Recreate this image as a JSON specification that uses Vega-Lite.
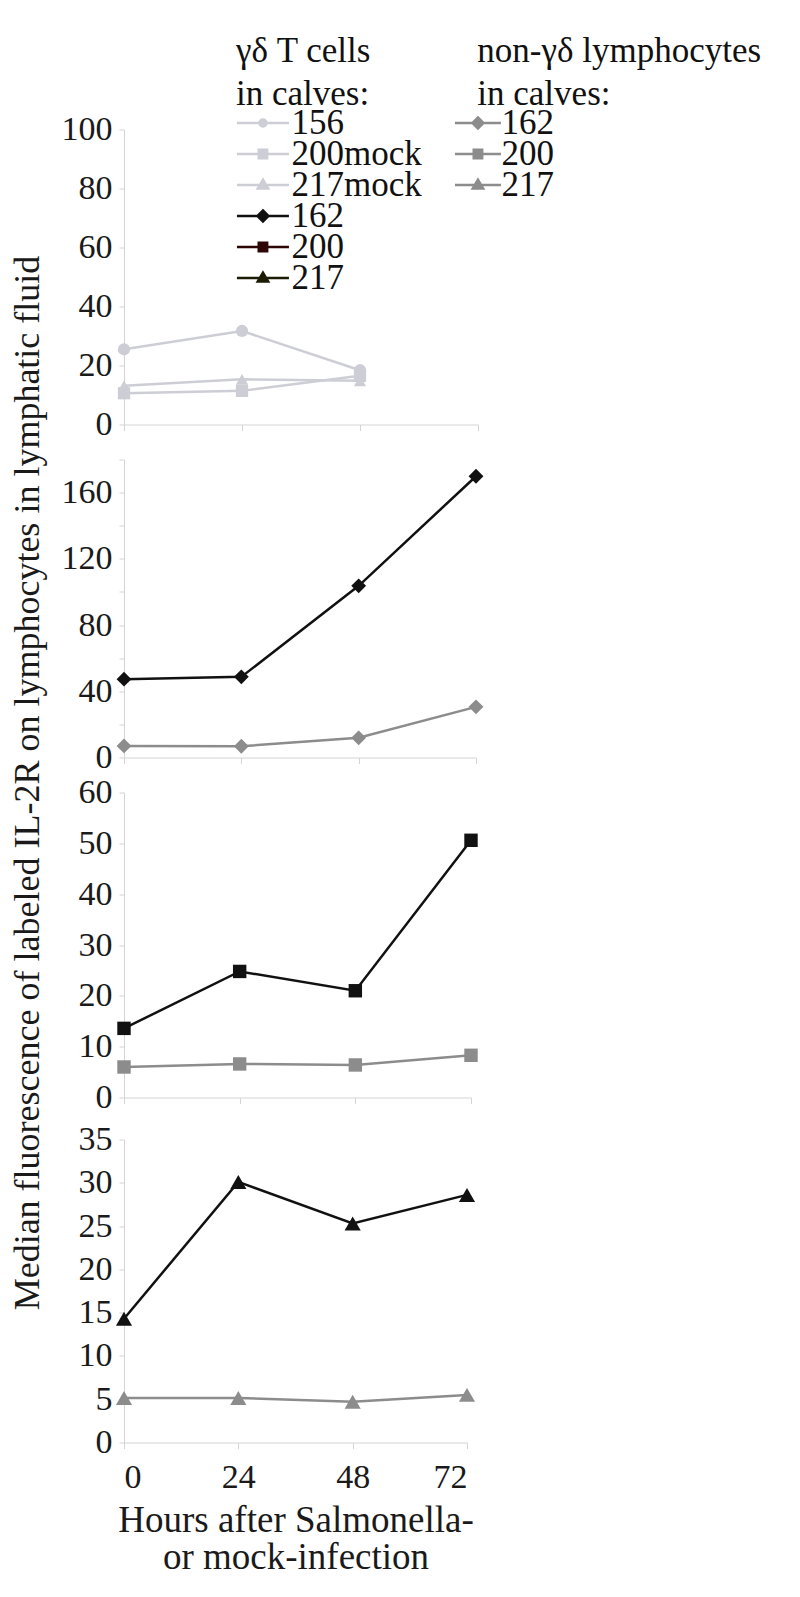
{
  "$schema": "https://vega.github.io/schema/vega-lite/v6.json",
  "background": "white",
  "padding": {"left": 8, "top": 33.5, "right": 0, "bottom": 0},
  "autosize": {"type": "pad"},
  "config": {
    "font": "Liberation Serif",
    "view": {"stroke": null},
    "axis": {
      "domainColor": "#d4d4d4", "tickColor": "#d4d4d4", "grid": false,
      "labelFont": "Liberation Serif", "labelFontSize": 34, "labelColor": "#1a1a1a",
      "titleFont": "Liberation Serif", "titleFontWeight": "normal", "titleColor": "#1a1a1a",
      "tickSize": 5, "domainWidth": 1, "tickWidth": 1, "labelPadding": 7
    },
    "legend": {
      "titleFont": "Liberation Serif", "titleFontSize": 35, "titleFontWeight": "normal", "titleColor": "#111111",
      "labelFont": "Liberation Serif", "labelFontSize": 35, "labelColor": "#111111",
      "padding": 0, "titleLimit": 400, "labelLimit": 300, "titleLineHeight": 43, "rowPadding": -6
    }
  },
  "data": {"values": [
    {"cells": "gd", "calf": "156", "hours": 0, "mfi": 25.5},
    {"cells": "gd", "calf": "156", "hours": 24, "mfi": 31.7},
    {"cells": "gd", "calf": "156", "hours": 48, "mfi": 18.4},
    {"cells": "gd", "calf": "200mock", "hours": 0, "mfi": 10.6},
    {"cells": "gd", "calf": "200mock", "hours": 24, "mfi": 11.4},
    {"cells": "gd", "calf": "200mock", "hours": 48, "mfi": 16.5},
    {"cells": "gd", "calf": "217mock", "hours": 0, "mfi": 13.1},
    {"cells": "gd", "calf": "217mock", "hours": 24, "mfi": 15.3},
    {"cells": "gd", "calf": "217mock", "hours": 48, "mfi": 14.8},
    {"cells": "gd", "calf": "162", "hours": 0, "mfi": 47.3},
    {"cells": "gd", "calf": "162", "hours": 24, "mfi": 48.7},
    {"cells": "gd", "calf": "162", "hours": 48, "mfi": 103.7},
    {"cells": "gd", "calf": "162", "hours": 72, "mfi": 169.9},
    {"cells": "non", "calf": "162", "hours": 0, "mfi": 7.0},
    {"cells": "non", "calf": "162", "hours": 24, "mfi": 6.8},
    {"cells": "non", "calf": "162", "hours": 48, "mfi": 11.9},
    {"cells": "non", "calf": "162", "hours": 72, "mfi": 30.6},
    {"cells": "gd", "calf": "200", "hours": 0, "mfi": 13.6},
    {"cells": "gd", "calf": "200", "hours": 24, "mfi": 24.8},
    {"cells": "gd", "calf": "200", "hours": 48, "mfi": 21.0},
    {"cells": "gd", "calf": "200", "hours": 72, "mfi": 50.6},
    {"cells": "non", "calf": "200", "hours": 0, "mfi": 6.0},
    {"cells": "non", "calf": "200", "hours": 24, "mfi": 6.6},
    {"cells": "non", "calf": "200", "hours": 48, "mfi": 6.4},
    {"cells": "non", "calf": "200", "hours": 72, "mfi": 8.3},
    {"cells": "gd", "calf": "217", "hours": 0, "mfi": 14.3},
    {"cells": "gd", "calf": "217", "hours": 24, "mfi": 30.1},
    {"cells": "gd", "calf": "217", "hours": 48, "mfi": 25.3},
    {"cells": "gd", "calf": "217", "hours": 72, "mfi": 28.6},
    {"cells": "non", "calf": "217", "hours": 0, "mfi": 5.15},
    {"cells": "non", "calf": "217", "hours": 24, "mfi": 5.15},
    {"cells": "non", "calf": "217", "hours": 48, "mfi": 4.7},
    {"cells": "non", "calf": "217", "hours": 72, "mfi": 5.5}
  ]},
  "bounds": "flush",
  "spacing": 0,
  "resolve": {"scale": {"fill": "independent", "stroke": "independent", "shape": "independent", "color": "independent", "size": "independent"}},
  "vconcat": [
    {
      "width": 354, "height": 295,
      "layer": [
        {
          "transform": [{"filter": {"field": "calf", "oneOf": ["156", "200mock", "217mock"]}}],
          "mark": {"type": "line", "color": "#cdced5", "strokeWidth": 2.5},
          "encoding": {
            "x": {"field": "hours", "type": "quantitative", "scale": {"domain": [0, 72], "nice": false, "zero": false},
                  "axis": {"values": [0, 24, 48, 72], "labels": false, "title": null, "tickSize": 6}},
            "y": {"field": "mfi", "type": "quantitative", "scale": {"domain": [0, 100], "nice": false},
                  "axis": {"values": [0, 20, 40, 60, 80, 100], "title": null}},
            "detail": {"field": "calf"}
          }
        },
        {
          "transform": [{"filter": {"field": "calf", "oneOf": ["156", "200mock", "217mock"]}}],
          "mark": {"type": "point", "filled": true, "opacity": 1, "color": "#cdced5"},
          "encoding": {
            "x": {"field": "hours", "type": "quantitative"},
            "y": {"field": "mfi", "type": "quantitative"},
            "shape": {"field": "calf", "type": "nominal", "scale": {"domain": ["156", "200mock", "217mock"], "range": ["circle", "square", "triangle-up"]}, "legend": null},
            "size": {"field": "calf", "type": "nominal", "scale": {"domain": ["156", "200mock", "217mock"], "range": [150, 150, 190]}, "legend": null}
          }
        },
        {
          "transform": [{"filter": "false"}],
          "mark": {"type": "point", "filled": true, "opacity": 1},
          "encoding": {
            "fill": {"field": "calf", "type": "nominal",
                     "scale": {"domain": ["156", "200mock", "217mock", "162", "200", "217"], "range": ["#cdced5", "#cdced5", "#cdced5", "#111111", "#2e0606", "#1c1c06"]},
                     "legend": {"title": ["γδ T cells", "in calves:"], "orient": "none", "legendX": 112, "legendY": -95.5, "symbolSize": 1600, "symbolStrokeWidth": 2.5, "symbolOffset": 5.45, "labelOffset": 7, "rowPadding": -6, "titlePadding": -1.5, "clipHeight": 25}},
            "stroke": {"field": "calf", "type": "nominal",
                     "scale": {"domain": ["156", "200mock", "217mock", "162", "200", "217"], "range": ["#cdced5", "#cdced5", "#cdced5", "#111111", "#2e0606", "#1c1c06"]},
                     "legend": {"title": ["γδ T cells", "in calves:"], "orient": "none", "legendX": 112, "legendY": -95.5, "symbolSize": 1600, "symbolStrokeWidth": 2.5, "symbolOffset": 5.45, "labelOffset": 7, "rowPadding": -6, "titlePadding": -1.5, "clipHeight": 25}},
            "shape": {"field": "calf", "type": "nominal",
                     "scale": {"domain": ["156", "200mock", "217mock", "162", "200", "217"], "range": [
                       "M-1.3,0H1.3M0.175,0A0.175,0.175,0,1,1,-0.175,0A0.175,0.175,0,1,1,0.175,0Z",
                       "M-1.3,0H1.3M-0.21,-0.21H0.21V0.21H-0.21Z",
                       "M-1.3,0H1.3M0,-0.27L0.26,0.17H-0.26Z",
                       "M-1.3,0H1.3M0,-0.275L0.275,0L0,0.275L-0.275,0Z",
                       "M-1.3,0H1.3M-0.21,-0.21H0.21V0.21H-0.21Z",
                       "M-1.3,0H1.3M0,-0.27L0.26,0.17H-0.26Z"]},
                     "legend": {"title": ["γδ T cells", "in calves:"], "orient": "none", "legendX": 112, "legendY": -95.5, "symbolSize": 1600, "symbolStrokeWidth": 2.5, "symbolOffset": 5.45, "labelOffset": 7, "rowPadding": -6, "titlePadding": -1.5, "clipHeight": 25}}
          }
        },
        {
          "transform": [{"filter": "false"}],
          "mark": {"type": "point", "filled": true, "opacity": 1},
          "encoding": {
            "fill": {"field": "calf", "type": "nominal",
                     "scale": {"domain": ["162", "200", "217"], "range": ["#8c8c8c", "#8c8c8c", "#8c8c8c"]},
                     "legend": {"title": ["\u200b\u2002\u2006non-γδ lymphocytes", "\u200b\u2002\u2006in calves:"], "orient": "none", "legendX": 330, "legendY": -95.5, "symbolSize": 1600, "symbolStrokeWidth": 2.5, "symbolOffset": 2.45, "labelOffset": 2, "rowPadding": -6, "titlePadding": -1.5, "clipHeight": 25}},
            "stroke": {"field": "calf", "type": "nominal",
                     "scale": {"domain": ["162", "200", "217"], "range": ["#8c8c8c", "#8c8c8c", "#8c8c8c"]},
                     "legend": {"title": ["\u200b\u2002\u2006non-γδ lymphocytes", "\u200b\u2002\u2006in calves:"], "orient": "none", "legendX": 330, "legendY": -95.5, "symbolSize": 1600, "symbolStrokeWidth": 2.5, "symbolOffset": 2.45, "labelOffset": 2, "rowPadding": -6, "titlePadding": -1.5, "clipHeight": 25}},
            "shape": {"field": "calf", "type": "nominal",
                     "scale": {"domain": ["162", "200", "217"], "range": [
                       "M-1.15,0H1.15M0,-0.275L0.275,0L0,0.275L-0.275,0Z",
                       "M-1.15,0H1.15M-0.21,-0.21H0.21V0.21H-0.21Z",
                       "M-1.15,0H1.15M0,-0.27L0.26,0.17H-0.26Z"]},
                     "legend": {"title": ["\u200b\u2002\u2006non-γδ lymphocytes", "\u200b\u2002\u2006in calves:"], "orient": "none", "legendX": 330, "legendY": -95.5, "symbolSize": 1600, "symbolStrokeWidth": 2.5, "symbolOffset": 2.45, "labelOffset": 2, "rowPadding": -6, "titlePadding": -1.5, "clipHeight": 25}}
          }
        }
      ],
      "resolve": {"scale": {"fill": "independent", "stroke": "independent", "shape": "independent", "size": "independent"}}
    },
    {"width": 10, "height": 35, "transform": [{"filter": "false"}], "mark": {"type": "point", "opacity": 0}},
    {
      "width": 352, "height": 298,
      "transform": [{"filter": {"field": "calf", "equal": "162"}}],
      "encoding": {
        "x": {"field": "hours", "type": "quantitative", "scale": {"domain": [0, 72], "nice": false, "zero": false},
              "axis": {"values": [0, 24, 48, 72], "labels": false, "title": null, "tickSize": 6}},
        "y": {"field": "mfi", "type": "quantitative", "scale": {"domain": [0, 180], "nice": false},
              "axis": {"values": [0, 20, 40, 60, 80, 100, 120, 140, 160, 180], "labelExpr": "datum.value % 40 === 0 ? datum.label : ''",
                       "title": "Median fluorescence of labeled IL-2R on lymphocytes in lymphatic fluid", "titleFontSize": 36,
                       "titleX": -97, "titleY": 323, "titleAngle": -90, "titleBaseline": "middle", "titleAlign": "center"}},
        "color": {"field": "cells", "type": "nominal", "scale": {"domain": ["gd", "non"], "range": ["#111111", "#8c8c8c"]}, "legend": null}
      },
      "layer": [
        {"mark": {"type": "line", "strokeWidth": 2.5}},
        {"mark": {"type": "point", "shape": "diamond", "filled": true, "opacity": 1, "size": 220}}
      ]
    },
    {"width": 10, "height": 35, "transform": [{"filter": "false"}], "mark": {"type": "point", "opacity": 0}},
    {
      "width": 347, "height": 305,
      "transform": [{"filter": {"field": "calf", "equal": "200"}}],
      "encoding": {
        "x": {"field": "hours", "type": "quantitative", "scale": {"domain": [0, 72], "nice": false, "zero": false},
              "axis": {"values": [0, 24, 48, 72], "labels": false, "title": null, "tickSize": 6}},
        "y": {"field": "mfi", "type": "quantitative", "scale": {"domain": [0, 60], "nice": false},
              "axis": {"values": [0, 10, 20, 30, 40, 50, 60], "title": null}},
        "color": {"field": "cells", "type": "nominal", "scale": {"domain": ["gd", "non"], "range": ["#111111", "#8c8c8c"]}, "legend": null}
      },
      "layer": [
        {"mark": {"type": "line", "strokeWidth": 2.5}},
        {"mark": {"type": "point", "shape": "square", "filled": true, "opacity": 1, "size": 180}}
      ]
    },
    {"width": 10, "height": 42, "transform": [{"filter": "false"}], "mark": {"type": "point", "opacity": 0}},
    {
      "width": 343, "height": 303,
      "transform": [{"filter": {"field": "calf", "equal": "217"}}],
      "encoding": {
        "x": {"field": "hours", "type": "quantitative", "scale": {"domain": [0, 72], "nice": false, "zero": false},
              "axis": {"values": [0, 24, 48, 72], "title": ["Hours after Salmonella-", "or mock-infection"], "titleFontSize": 37, "titleLineHeight": 37, "titlePadding": 8, "labelPadding": 12, "tickSize": 6}},
        "y": {"field": "mfi", "type": "quantitative", "scale": {"domain": [0, 35], "nice": false},
              "axis": {"values": [0, 5, 10, 15, 20, 25, 30, 35], "title": null}},
        "color": {"field": "cells", "type": "nominal", "scale": {"domain": ["gd", "non"], "range": ["#111111", "#8c8c8c"]}, "legend": null}
      },
      "layer": [
        {"mark": {"type": "line", "strokeWidth": 2.5}},
        {"mark": {"type": "point", "shape": "triangle-up", "filled": true, "opacity": 1, "size": 260}}
      ]
    }
  ]
}
